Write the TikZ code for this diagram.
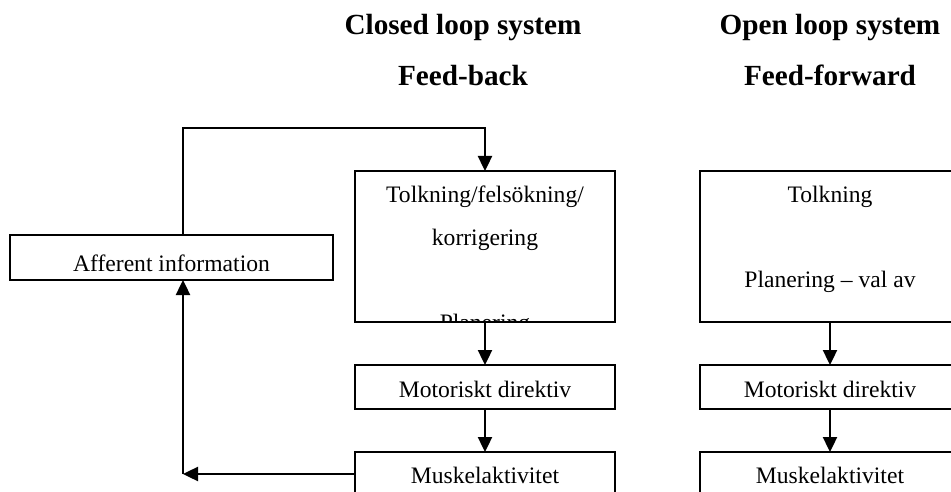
\documentclass[tikz,border=0pt]{standalone}
\usepackage{fontspec}
\setmainfont{Liberation Serif}
\usetikzlibrary{arrows.meta}
\tikzset{
  box/.style={draw,line width=1.5pt,inner sep=0pt,outer sep=0pt,minimum width=195pt},
  txt/.style={anchor=base,inner sep=0pt,font=\fontsize{17.7}{21}\selectfont},
  head/.style={anchor=base,inner sep=0pt,font=\fontsize{21.9}{26}\selectfont\bfseries},
  arr/.style={line width=1.8pt,-{Triangle[length=11.25pt,width=10.5pt]}}
}
\begin{document}
\begin{tikzpicture}[x=0.75pt,y=-0.75pt]
    \clip(0,0)rectangle(951,492);
    % headings
    \node[head](clA)at(463,35){Closed loop system};
    \node[head](clB)at(463,86){Feed-back};
    \node[head](opA)at(830,35){Open loop system};
    \node[head](opB)at(830,86){Feed-forward};
    % closed loop column
    \node[box,minimum height=113.25pt](tolkA)at(485,246.5){};
    \node[box,minimum height=33pt](motA)at(485,387){};
    \node[box,minimum height=33pt](muskA)at(485,474){};
    \node[box,minimum width=242.25pt,minimum height=33.75pt](aff)at(171.5,257.5){};
    \node[txt](tA1)at(485,203){Tolkning/felsökning/};
    \node[txt](tA2)at(485,245){korrigering};
    \begin{scope}
        \clip(tolkA.north west)rectangle(tolkA.south east);
        \node[txt](tA3)at(485,330){Planering};
    \end{scope}
    \node[txt](mA)at(485,397){Motoriskt direktiv};
    \node[txt](kA)at(485,483){Muskelaktivitet};
    \node[txt](af)at(171.5,272){Afferent information};
    % open loop column
    \node[box,minimum height=113.25pt](tolkB)at(830,246.5){};
    \node[box,minimum height=33pt](motB)at(830,387){};
    \node[box,minimum height=33pt](muskB)at(830,474){};
    \node[txt](tB1)at(830,203){Tolkning};
    \node[txt](tB2)at(830,287){Planering -- val av};
    \node[txt](mB)at(830,397){Motoriskt direktiv};
    \node[txt](kB)at(830,483){Muskelaktivitet};
    % connectors
    \coordinate(fb)at(183,474);
    \draw[arr](tolkA)--(motA);
    \draw[arr](motA)--(muskA);
    \draw[arr](muskA.west)--(fb);
    \draw[arr](fb)--(fb|-aff.south);
    \draw[arr](fb|-aff.north)--++(0,-107)-|(tolkA.north);
    \draw[arr](tolkB)--(motB);
    \draw[arr](motB)--(muskB);
\end{tikzpicture}
\end{document}
